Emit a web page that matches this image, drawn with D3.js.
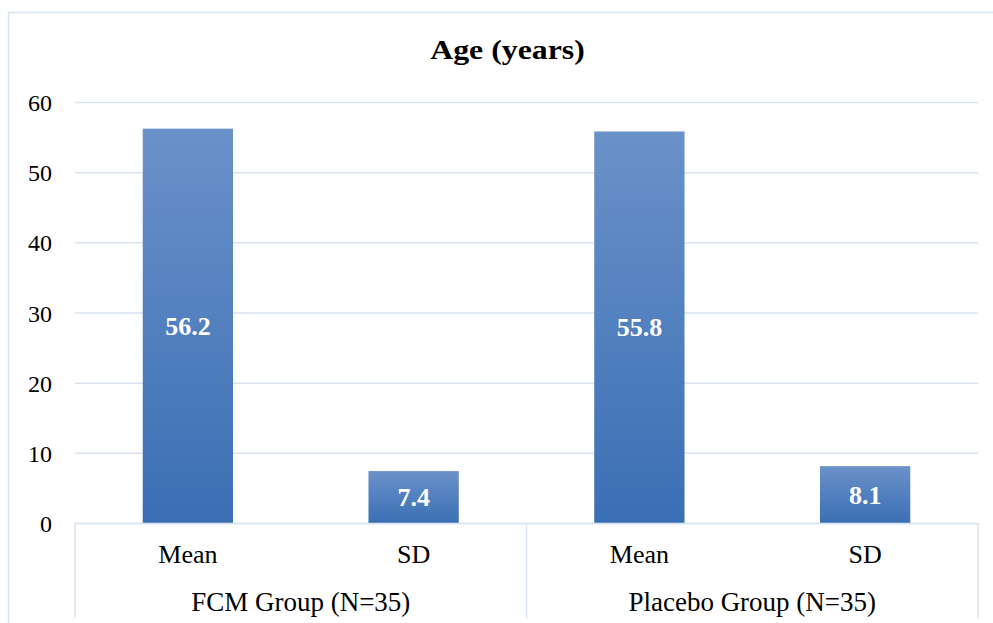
<!DOCTYPE html>
<html><head><meta charset="utf-8">
<script src="https://cdn.jsdelivr.net/npm/d3@7"></script>
<style>html,body{margin:0;padding:0;background:#fff;}svg{display:block;}</style>
</head><body>
<svg id="chart" width="993" height="623"></svg>
<script>
const title = "Age (years)";
const groups = ["FCM Group (N=35)", "Placebo Group (N=35)"];
const stats = ["Mean", "SD"];
const values = [56.2, 7.4, 55.8, 8.1];
const yTicks = [0, 10, 20, 30, 40, 50, 60];

const cats = [];
groups.forEach((g, gi) => stats.forEach((s, si) => cats.push({group: g, gi, stat: s, value: values[gi * stats.length + si], key: gi + "-" + s})));

const FONT = "'Liberation Serif', 'Times New Roman', serif";
const svg = d3.select("#chart");
const W = 993, H = 623;
const m = {left: 75, right: 15, top: 102, bottom: 100};
const x0 = m.left, x1 = W - m.right, yTop = m.top, yBot = H - m.bottom;

const defs = svg.append("defs");
const grad = defs.append("linearGradient").attr("id", "barGrad").attr("x1", 0).attr("y1", 0).attr("x2", 0).attr("y2", 1);
grad.append("stop").attr("offset", "0%").attr("stop-color", "#6b91c9");
grad.append("stop").attr("offset", "100%").attr("stop-color", "#3a6fb4");

// outer border
svg.append("rect").attr("x", 8.5).attr("y", 12.5).attr("width", W + 20).attr("height", H + 20)
  .attr("fill", "none").attr("stroke", "#d5e3f3").attr("stroke-width", 1.5);

const x = d3.scaleBand().domain(cats.map(d => d.key)).range([x0, x1]).paddingInner(0.6).paddingOuter(0.3);
const y = d3.scaleLinear().domain([0, 60]).range([yBot, yTop]);

// grid
svg.append("g").selectAll("line").data(yTicks).join("line")
  .attr("x1", x0).attr("x2", x1).attr("y1", d => y(d) + 0.5).attr("y2", d => y(d) + 0.5)
  .attr("stroke", "#d9e3f1").attr("stroke-width", 1.5);

// y axis labels
const yAxis = d3.axisLeft(y).tickValues(yTicks).tickSize(0).tickPadding(0).tickFormat(d3.format("d"));
const ya = svg.append("g").attr("transform", `translate(52,0)`).call(yAxis);
ya.select(".domain").remove();
ya.selectAll("text").attr("font-family", FONT).attr("font-size", 24).attr("fill", "#000").attr("dy", "0.36em");

// bars
svg.append("g").selectAll("rect").data(cats).join("rect")
  .attr("x", d => x(d.key)).attr("width", x.bandwidth())
  .attr("y", d => y(d.value)).attr("height", d => y(0) - y(d.value))
  .attr("fill", "url(#barGrad)");

// value labels
svg.append("g").selectAll("text").data(cats).join("text")
  .attr("x", d => x(d.key) + x.bandwidth() / 2)
  .attr("y", d => (y(d.value) + y(0)) / 2)
  .attr("dy", "0.35em").attr("text-anchor", "middle")
  .attr("font-family", FONT).attr("font-weight", "bold").attr("font-size", 26)
  .attr("fill", "#fff").text(d => d.value.toFixed(1));

// category axis lines
const catW = (x1 - x0) / cats.length;
svg.append("line").attr("x1", x0).attr("x2", x1).attr("y1", y(0) + 0.5).attr("y2", y(0) + 0.5).attr("stroke", "#d9e3f1").attr("stroke-width", 1.5);
const seps = [x0, x0 + catW * stats.length, x1];
svg.append("g").selectAll("line").data(seps).join("line")
  .attr("x1", d => d).attr("x2", d => d).attr("y1", y(0)).attr("y2", 618)
  .attr("stroke", "#d9e3f1").attr("stroke-width", 1.5);

// stat labels
svg.append("g").selectAll("text").data(cats).join("text")
  .attr("x", d => x(d.key) + x.bandwidth() / 2).attr("y", 563)
  .attr("text-anchor", "middle")
  .attr("font-family", FONT).attr("font-size", 26).attr("fill", "#000")
  .text(d => d.stat);

// group labels
svg.append("g").selectAll("text").data(groups).join("text")
  .attr("x", (d, i) => x0 + catW * stats.length * (i + 0.5)).attr("y", 611)
  .attr("text-anchor", "middle")
  .attr("font-family", FONT).attr("font-size", 27).attr("fill", "#000")
  .text(d => d);

// title
svg.append("text").attr("transform", "translate(507.5,59) scale(1.2,1)").attr("text-anchor", "middle")
  .attr("font-family", FONT).attr("font-weight", "bold").attr("font-size", 26.5)
  .attr("fill", "#000").text(title);
</script>
</body></html>
